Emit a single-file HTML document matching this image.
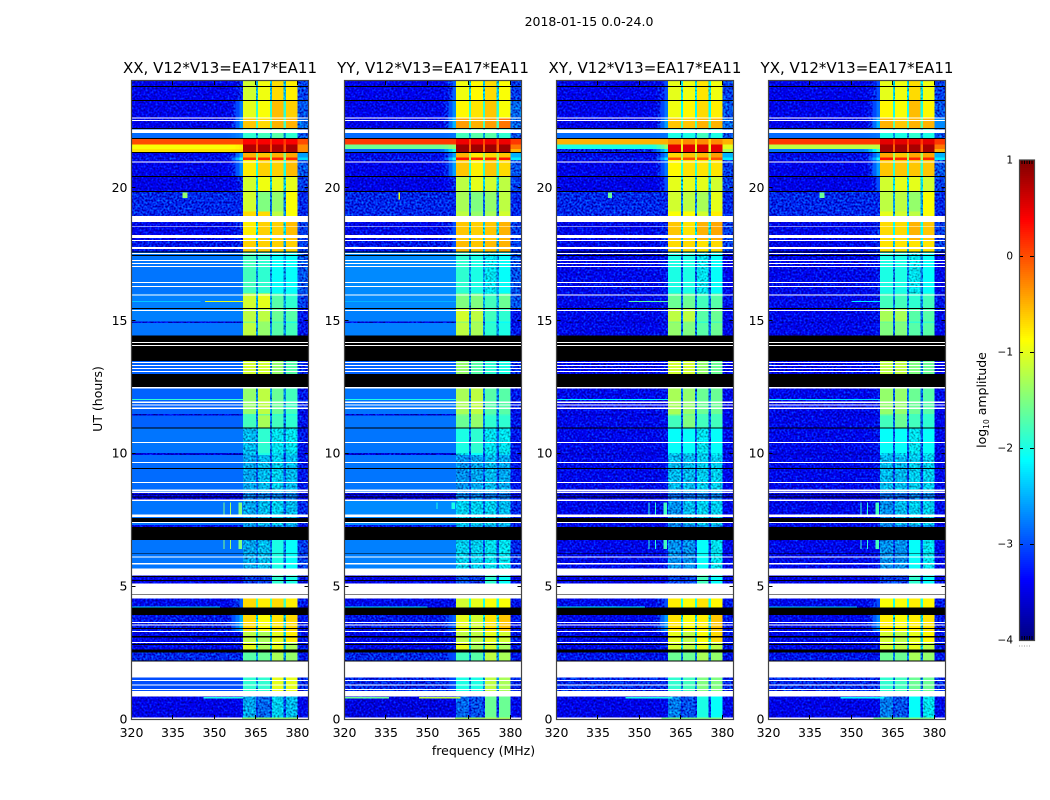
<!DOCTYPE html>
<html>
<head>
<meta charset="utf-8">
<title>2018-01-15 0.0-24.0</title>
<style>
html,body{margin:0;padding:0;background:#fff;}
svg{display:block;font-family:"DejaVu Sans","Liberation Sans",sans-serif;}
</style>
</head>
<body>
<svg id="figure" xmlns="http://www.w3.org/2000/svg" width="1050" height="800" viewBox="0 0 1050 800">
<defs>
<filter id="speckle" x="0" y="0" width="1" height="1" color-interpolation-filters="sRGB">
<feTurbulence type="fractalNoise" baseFrequency="0.5" numOctaves="1" seed="7" result="n"/>
<feColorMatrix in="n" type="matrix" values="0 0 0 0 0  1 0 0 0 0  1 0 0 0 0  0 0 0 0 1" result="g"/>
<feComposite in="SourceGraphic" in2="g" operator="arithmetic" k1="0" k2="1" k3="1.2" k4="-0.68"/>
</filter>
</defs>
<text x="589" y="26" text-anchor="middle" font-size="12.5" fill="#000">2018-01-15 0.0-24.0</text>
<text x="483.5" y="755" text-anchor="middle" font-size="12.5" fill="#000">frequency (MHz)</text>
<text transform="translate(102,399) rotate(-90)" text-anchor="middle" font-size="12.5" fill="#000">UT (hours)</text>
<text transform="translate(986,400) rotate(-90)" text-anchor="middle" font-size="12.5" fill="#000">log<tspan font-size="7.5" dy="3">10</tspan><tspan dy="-3"> amplitude</tspan></text>
</svg>
<script>
// ---- chart data ----
const panelTitles = ['XX, V12*V13=EA17*EA11','YY, V12*V13=EA17*EA11','XY, V12*V13=EA17*EA11','YX, V12*V13=EA17*EA11'];
const xTicks = [320,335,350,365,380];
const yTicks = [0,5,10,15,20];
const colorTicks = [1,0,-1,-2,-3,-4];
const colorTickLabels = ['1','0','\u22121','\u22122','\u22123','\u22124'];
// UT hour boundaries of the data rows, top to bottom
const rowEdges = [24,23.29,22.62,22.2,21.83,21.62,21.45,21.31,21.12,21.02,20.43,19.84,19.1,18.7,18,17.59,16,15.44,14.96,14.9,14.43,12.46,11.48,11.42,10.95,10,9.93,8.5,8.2,7.3,6.73,5.39,5.09,4.19,3.3,2.88,2.56,1.56,0.84,0];
// log10 amplitude per row: [bgLeft, transition, band1, band2, band3, band4, bgRight, gap]
const valuesXX = [
[-3.35,-3.1,-1.1,-0.95,-0.7,-0.8,-3,-2.4],[-3.35,-2.8,-1,-0.9,-0.55,-0.65,-2.9,-1.9],[-3.35,-2.6,-0.6,-0.7,-0.5,-0.5,-2.8,-1.8],
[-2.85,-2.7,-1.9,-1.8,-1.7,-1.9,-2.9,-2.5],[0,0,0.35,0.4,0.4,0.4,0,0.1],[-0.9,-0.8,0.75,0.75,0.75,0.8,-0.3,0],[-0.75,-0.7,0.75,0.75,0.75,0.8,-0.3,0],
[-3.3,-2.6,-0.5,-0.6,-0.5,-0.45,-2.6,-1.5],[-3.2,-2,0.2,0.2,0.2,0.2,-2.3,-1.3],[-3.35,-2.7,-0.8,-0.65,-0.65,-0.55,-2.9,-2],
[-3.4,-3.1,-1.1,-0.95,-1,-1,-3,-2.3],[-3.1,-3.1,-1.1,-1.5,-1.4,-0.9,-3.1,-2.7],[-3.1,-3.1,-0.7,-0.7,-1.2,-0.9,-3.1,-2.7],
[-3.3,-3.1,-0.8,-0.65,-0.65,-0.55,-3,-2.2],[-3.2,-3.1,-0.65,-0.65,-0.65,-0.65,-3,-2.5],[-2.8,-2.8,-1.8,-1.9,-2.1,-2.1,-2.9,-2.6],
[-2.75,-2.75,-1.1,-1,-1.7,-1.9,-3,-2.5],[-2.75,-2.75,-1.2,-1.2,-1.6,-1.7,-3.2,-2.6],[-3.5,-3.5,-1.5,-1.4,-1.8,-2,-3.5,-3],
[-2.8,-2.8,-1.2,-1.4,-1.7,-1.8,-3.2,-2.6],[-2.9,-2.9,-1.1,-1.1,-1.4,-1.7,-3.1,-2.7],[-2.9,-2.9,-1.4,-1.2,-1.6,-1.8,-3.2,-2.6],
[-3.5,-3.5,-1.8,-1.6,-1.9,-2,-3.5,-3],[-2.9,-2.9,-1.8,-1.3,-1.8,-1.9,-3.2,-2.7],[-2.8,-2.8,-2.4,-1.9,-2.2,-2.2,-3.2,-2.7],
[-3.5,-3.5,-2.4,-2,-2.3,-2.3,-3.5,-3],[-2.85,-2.85,-2.5,-2.4,-2.3,-2.4,-3.2,-2.9],[-3.4,-3.4,-2.7,-2.7,-2.7,-2.7,-3.3,-3.1],
[-2.8,-2.8,-2.5,-2.4,-2.3,-2.4,-3.1,-2.9],[-3.3,-3.2,-2.6,-2.6,-2.6,-2.6,-3.3,-3],[-2.8,-2.8,-2.5,-2.4,-2,-2.1,-3,-2.8],
[-3.4,-3.3,-3,-3,-1.9,-2,-3.2,-3.1],[-3.3,-2.9,-0.7,-0.8,-0.7,-0.8,-3.2,-1.8],[-3.2,-2.5,-0.7,-0.9,-0.75,-0.7,-3.2,-2.3],
[-3.3,-3.2,-1.2,-1.3,-1,-0.8,-3.2,-2.3],[-3.3,-3.2,-1,-1.3,-1,-1.3,-3.2,-2.3],[-3.1,-3.1,-1.7,-1.6,-1.3,-1.4,-3.2,-2.6],
[-3,-3,-1.9,-1.9,-1,-1,-3.1,-2.6],[-3.4,-3.3,-2.5,-2.8,-2.3,-2.4,-3.3,-3]];
const valuesYY = [
[-3.35,-2.9,-0.95,-0.85,-0.7,-0.9,-3,-2.3],[-3.35,-2.7,-0.85,-0.75,-0.6,-0.9,-2.8,-1.9],[-3.35,-2.5,-0.4,-0.5,-0.4,-0.2,-2.8,-1.8],
[-2.85,-2.8,-1.8,-1.7,-1.7,-1.9,-2.9,-2.5],[0.1,0.1,0.45,0.45,0.45,0.45,0.1,0],[-1.6,-1.4,0.85,0.85,0.85,0.85,-0.2,-0.1],[-2.9,-2,0.85,0.85,0.85,0.85,-0.5,-0.1],
[-3.3,-2.6,-0.5,-0.8,-0.7,-0.6,-2.5,-1.3],[-3.2,-2,0.3,0.2,0.2,0.3,-2.2,-1.2],[-3.35,-2.6,-0.6,-0.8,-0.6,-0.7,-2.9,-1.9],
[-3.4,-3.1,-1.2,-1,-1.1,-1.2,-3,-2.3],[-3.1,-3.1,-1.3,-1.5,-1.4,-1.2,-3.1,-2.8],[-3.1,-3.1,-1.2,-1.4,-1.3,-1.1,-3.1,-2.8],
[-3.3,-3,-0.6,-0.65,-0.6,-0.5,-3,-2.3],[-3.2,-3,-0.55,-0.6,-0.55,-0.5,-3,-2.5],[-2.7,-2.7,-1.9,-2,-2.2,-2.1,-2.9,-2.6],
[-2.7,-2.7,-1.5,-1.5,-1.8,-1.6,-2.9,-2.5],[-2.75,-2.75,-1.1,-1.2,-1.8,-1.9,-3.2,-2.6],[-3.5,-3.5,-1.4,-1.4,-2,-2.1,-3.5,-3],
[-2.75,-2.75,-1.2,-1.3,-1.9,-2,-3.2,-2.6],[-2.9,-2.9,-1.4,-1.7,-1.9,-2,-3.1,-2.8],[-2.8,-2.8,-1.3,-1.2,-1.7,-1.7,-3.2,-2.7],
[-3.5,-3.5,-1.5,-1.4,-1.8,-1.8,-3.5,-3],[-2.8,-2.8,-1.6,-1.4,-1.9,-1.9,-3.2,-2.7],[-2.8,-2.8,-2,-1.9,-2.2,-2.2,-3.2,-2.8],
[-3.5,-3.5,-2.2,-2.1,-2.3,-2.3,-3.5,-3],[-2.8,-2.8,-2.6,-2.5,-2.4,-2.5,-3.2,-2.9],[-3.4,-3.4,-2.7,-2.7,-2.7,-2.7,-3.3,-3.1],
[-2.7,-2.7,-2.3,-2.3,-2.3,-2.4,-3.1,-2.8],[-3.2,-3.2,-2.5,-2.5,-2.5,-2.5,-3.2,-3],[-2.75,-2.75,-2.3,-2.3,-2.2,-2.2,-3.1,-2.9],
[-3.4,-3.3,-2.9,-3,-1.9,-2.1,-3.3,-3.2],[-3.3,-3.2,-1.1,-1,-0.9,-0.9,-3.2,-2],[-3.2,-2.9,-1,-1.1,-0.75,-0.6,-3.2,-2.2],
[-3.3,-3.2,-1.2,-1.2,-1,-1.1,-3.2,-2.3],[-3.3,-3.2,-1,-1.3,-1.1,-1.3,-3.2,-2.3],[-3.1,-3,-1.8,-1.7,-1.2,-1.3,-3.2,-2.6],
[-3.1,-3,-2,-2,-1.2,-1.3,-3.1,-2.6],[-3.45,-3.4,-2.8,-2.9,-1.6,-1.6,-3.3,-3.1]];
const valuesXY = [
[-3.35,-3,-1,-0.95,-0.75,-0.95,-3,-2.2],[-3.35,-2.8,-0.95,-0.85,-0.7,-0.8,-2.9,-2.1],[-3.35,-2.6,-0.6,-0.6,-0.5,-0.5,-2.8,-1.8],
[-2.85,-2.8,-2,-2,-1.8,-2,-2.9,-2.6],[-0.5,-0.5,-0.3,-0.3,-0.3,-0.3,-0.5,-0.7],[-2,-1.4,0.5,0.5,0.55,0.5,-1,-1],[-3.1,-2.2,0.5,0.5,0.55,0.5,-1.3,-1],
[-3.3,-2.7,-0.7,-0.6,-0.55,-0.4,-2.5,-1.3],[-3.2,-2.2,0,0,0,0,-2.2,-1],[-3.35,-2.8,-0.85,-0.75,-0.75,-0.75,-3,-1.9],
[-3.4,-3,-1,-1,-1,-1.1,-3,-2.3],[-3.1,-3.1,-1.1,-1.2,-1.3,-1,-3.1,-2.7],[-3.1,-3.1,-0.9,-0.9,-1.1,-0.8,-3.1,-2.7],
[-3.3,-3.1,-0.6,-0.75,-0.5,-0.45,-3,-2.2],[-3.3,-3.1,-0.7,-0.7,-0.75,-0.7,-3,-2.6],[-3.3,-3.2,-2,-2,-2.2,-2.1,-3.3,-2.9],
[-3.3,-3.2,-1.6,-1.6,-1.8,-1.7,-3.2,-2.8],[-3.3,-3.2,-1.2,-1.2,-1.7,-1.6,-3.3,-2.8],[-3.5,-3.5,-1.5,-1.5,-1.9,-1.8,-3.5,-3],
[-3.3,-3.2,-1.4,-1.5,-1.7,-1.6,-3.3,-2.8],[-3.3,-3.2,-1.1,-1.1,-1.4,-1.6,-3.3,-2.8],[-3.3,-3.2,-1.3,-1.4,-1.6,-1.6,-3.3,-2.8],
[-3.5,-3.5,-1.5,-1.6,-1.8,-1.8,-3.5,-3],[-3.3,-3.2,-1.8,-1.5,-1.8,-1.8,-3.3,-2.8],[-3.3,-3.2,-2.1,-2.1,-2.2,-2.1,-3.3,-2.9],
[-3.5,-3.5,-2.3,-2.3,-2.3,-2.2,-3.5,-3],[-3.3,-3.2,-2.4,-2.4,-2.3,-2.3,-3.3,-3],[-3.4,-3.4,-2.8,-2.8,-2.7,-2.7,-3.3,-3.1],
[-3.3,-3.2,-2.6,-2.4,-2.3,-2.3,-3.3,-3],[-3.3,-3.2,-2.7,-2.7,-2.6,-2.6,-3.3,-3],[-3.3,-3.2,-2.6,-2.6,-2.1,-2.2,-3.3,-3],
[-3.4,-3.3,-3,-3,-1.8,-2.1,-3.3,-3.1],[-3.3,-3,-0.8,-0.9,-0.75,-0.85,-3.2,-2],[-3.3,-2.6,-0.75,-0.9,-0.8,-0.6,-3.2,-2.3],
[-3.3,-3.2,-1,-1.2,-0.9,-0.7,-3.2,-2.3],[-3.3,-3.2,-1.1,-1.2,-1,-1.2,-3.2,-2.3],[-3.2,-3.2,-1.6,-1.6,-1.3,-1.4,-3.2,-2.7],
[-3.1,-3.1,-1.9,-1.8,-1.5,-1.5,-3.1,-2.7],[-3.4,-3.3,-2.7,-2.9,-2,-2.1,-3.3,-3.1]];
const valuesYX = [
[-3.35,-3,-1,-0.95,-0.7,-0.95,-3,-2.2],[-3.35,-2.8,-0.85,-0.9,-0.55,-0.85,-2.9,-2],[-3.35,-2.5,-0.5,-0.6,-0.5,-0.5,-2.7,-1.7],
[-2.85,-2.8,-2,-2,-1.9,-2,-2.9,-2.6],[0.1,0.1,0.5,0.5,0.5,0.5,0.1,0.1],[-1.2,-1.2,0.8,0.8,0.8,0.8,-0.2,-0.1],[-2.8,-1.8,0.8,0.8,0.8,0.8,-0.5,-0.1],
[-3.3,-2.6,-0.45,-0.6,-0.45,-0.45,-2.5,-1.3],[-3.2,-2.1,0.3,0.2,0.2,0.2,-2.2,-1.2],[-3.35,-2.6,-0.6,-0.6,-0.6,-0.6,-2.9,-1.9],
[-3.4,-3,-1.1,-1,-1,-1.1,-3,-2.2],[-3.1,-3.1,-1.2,-1.2,-1.4,-0.9,-3.1,-2.5],[-3.1,-3.1,-1,-1.1,-1.2,-0.9,-3.1,-2.5],
[-3.3,-3.1,-0.7,-0.7,-0.5,-0.6,-3,-2.1],[-3.3,-3.1,-0.75,-0.75,-0.75,-0.75,-3,-2.4],[-3.3,-3.2,-2,-2,-2.2,-2.1,-3.3,-2.7],
[-3.3,-3.2,-1.8,-1.8,-1.9,-1.8,-3.2,-2.7],[-3.3,-3.2,-1.3,-1.3,-1.7,-1.7,-3.3,-2.8],[-3.5,-3.5,-1.6,-1.6,-1.9,-1.9,-3.5,-3],
[-3.3,-3.2,-1.5,-1.5,-1.7,-1.7,-3.3,-2.8],[-3.3,-3.2,-1.2,-1.2,-1.5,-1.6,-3.3,-2.8],[-3.3,-3.2,-1.4,-1.4,-1.6,-1.7,-3.3,-2.8],
[-3.5,-3.5,-1.6,-1.6,-1.8,-1.9,-3.5,-3],[-3.3,-3.2,-1.8,-1.6,-1.8,-1.9,-3.3,-2.8],[-3.3,-3.2,-2.1,-2.1,-2.2,-2.1,-3.3,-2.9],
[-3.5,-3.5,-2.3,-2.3,-2.3,-2.2,-3.5,-3],[-3.3,-3.2,-2.4,-2.4,-2.3,-2.3,-3.3,-3],[-3.4,-3.4,-2.8,-2.8,-2.7,-2.7,-3.3,-3.1],
[-3.3,-3.2,-2.6,-2.4,-2.3,-2.3,-3.3,-3],[-3.3,-3.2,-2.7,-2.7,-2.6,-2.6,-3.3,-3],[-3.3,-3.2,-2.6,-2.6,-2.1,-2.2,-3.3,-3],
[-3.4,-3.3,-3,-3,-1.9,-2.1,-3.3,-3.1],[-3.3,-3,-0.9,-0.9,-0.8,-0.85,-3.2,-2],[-3.3,-2.7,-0.8,-0.9,-0.8,-0.75,-3.2,-2.3],
[-3.3,-3.2,-1.1,-1.2,-1,-0.85,-3.2,-2.3],[-3.3,-3.2,-1.1,-1.2,-1,-1.2,-3.2,-2.3],[-3.2,-3.2,-1.6,-1.6,-1.3,-1.4,-3.2,-2.7],
[-3.1,-3.1,-1.9,-1.8,-1.6,-1.6,-3.1,-2.7],[-3.4,-3.3,-2.7,-2.9,-2.1,-2.2,-3.3,-3.1]];
const panelValues = [valuesXX,valuesYY,valuesXY,valuesYX];
// isolated interference features: [panel, upper UT, lower UT, start MHz, end MHz, log10 amplitude]
const spikes = [
[0,19.8,19.6,338.5,340.3,-1.4],[1,19.8,19.55,339.6,340,-1],[2,19.8,19.6,338.7,340,-1.6],[3,19.8,19.6,338.5,340.3,-1.6],
[0,15.72,15.68,346.5,360.4,-1],[0,15.72,15.68,320,345,-2.4],[1,15.72,15.68,320,360.4,-2.5],[2,15.72,15.68,346,360.4,-1.7],[3,15.72,15.68,350,360.4,-2.2],
[0,12.04,12,320,360.4,-1.9],[1,12.04,12,320,360.4,-2],[2,12.04,12,320,360.4,-2.2],[3,12.04,12,320,360.4,-2.3],
[0,8.15,7.7,353.2,353.6,-1.5],[0,8.15,7.7,355.6,356,-1.3],[0,8.15,7.7,358.7,360,-1.5],
[0,6.73,6.4,353.2,353.6,-1.5],[0,6.73,6.4,355.6,356,-1.3],[0,6.73,6.4,358.7,360,-1.5],
[1,8.15,7.9,353.2,353.6,-2],[1,8.15,7.9,358.7,360,-2],
[2,8.15,7.7,353.2,353.6,-1.9],[2,8.15,7.7,355.6,356,-1.9],[2,8.15,7.7,358.7,360,-1.8],
[2,6.73,6.4,353.2,353.6,-1.9],[2,6.73,6.4,355.6,356,-1.9],[2,6.73,6.4,358.7,360,-1.8],
[3,8.15,7.7,353.2,353.6,-1.9],[3,8.15,7.7,355.6,356,-1.9],[3,8.15,7.7,358.7,360,-1.8],
[3,6.73,6.4,353.2,353.6,-1.9],[3,6.73,6.4,355.6,356,-1.9],[3,6.73,6.4,358.7,360,-1.8],
[0,4.24,4.2,320,352,-2.4],[1,4.24,4.2,320,350,-2.3],[2,4.24,4.2,320,352,-2.2],[3,4.24,4.2,320,352,-2.4],
[0,0.82,0.78,346,360.4,-2],[1,0.82,0.78,320,336,-1.6],[1,0.82,0.78,347,362,-1.2],[2,0.82,0.78,345,362,-2],[3,0.82,0.78,346,362,-2.1],
[0,0.05,0,360,380,-1.4],[1,0.05,0,360,380,-1.3],[2,0.05,0,358,380,-1.5],[3,0.05,0,358,380,-1.5]
];
// flagged (white) time ranges, [upper UT, lower UT]
const whiteGaps = [[22.62,22.58],[22.54,22.5],[22.18,22.04],[20.97,20.94],[18.92,18.7],[18.55,18.52],[18.21,18.1],[18.02,17.98],[17.76,17.68],[17.53,17.49],[17.27,17.23],[17.16,17.12],[17.04,17],[16.44,16.4],[16.29,16.25],[15.97,15.93],[15.39,15.35],[14.18,14.15],[14.07,14.03],[13.43,13.39],[13.32,13.28],[13.21,13.17],[13.09,13.05],[12.48,12.44],[11.95,11.89],[11.83,11.79],[11.71,11.67],[10.42,10.38],[9.67,9.63],[8.92,8.88],[8.63,8.58],[8.55,8.5],[8.25,8.21],[7.7,7.59],[7.41,7.37],[6.11,6.07],[5.86,5.82],[5.67,5.39],[5.09,4.7],[4.68,4.53],[3.65,3.61],[3.55,3.51],[3.31,3.27],[2.9,2.86],[2.16,1.56],[1.47,1.43],[1.3,1.26],[1.13,1.09],[1.05,0.84],[0.05,0]];
// zero-amplitude (black) time ranges, [upper UT, lower UT]
const blackGaps = [[23.82,23.78],[23.29,23.25],[22.24,22.2],[21.85,21.81],[21.33,21.29],[20.43,20.39],[19.86,19.82],[17.59,17.55],[17.46,17.42],[15.46,15.42],[14.43,13.47],[12.98,12.48],[10.97,10.93],[9.44,9.41],[8.45,8.42],[8.37,8.34],[7.56,7.41],[7.22,6.73],[6.23,6.2],[5.38,5.34],[5.23,5.19],[4.7,4.68],[4.19,3.91],[3.42,3.39],[3.12,3.07],[2.82,2.79],[2.62,2.51],[2.21,2.16]];

// ---- layout ----
const NS = 'http://www.w3.org/2000/svg';
const fig = document.getElementById('figure');
const panelLeft = [131.5,344.5,556.5,768.5];
const axW = 177, axTop = 81, axBottom = 719;
const xMin = 320, xMax = 384, yMin = 0, yMax = 24;
// frequency zones (MHz): [start, end, value column, share of the step from bgLeft]
const zones = [
[320,354.7,0,0],[354.7,356.2,1,0.08],[356.2,357.6,1,0.3],[357.6,359,1,0.6],[359,360.4,1,1],
[360.4,365,2,1],[365,365.8,7,1],[365.8,370,3,1],[370,370.8,7,1],[370.8,375,4,1],[375,375.8,7,1],[375.8,380,5,1],[380,384,6,1]];
function xScale(p, f) { return panelLeft[p] + (f - xMin) / (xMax - xMin) * axW; }
function yScale(h) { return axBottom - (h - yMin) / (yMax - yMin) * (axBottom - axTop); }
function colorY(v) { return 640 - (v + 4) / 5 * 480; }
function jet(v) {
  const t = Math.max(0, Math.min(1, (v + 4) / 5));
  const c = function (o) { return Math.round(255 * Math.max(0, Math.min(1, 1.5 - Math.abs(4 * t - o)))); };
  return 'rgb(' + c(3) + ',' + c(2) + ',' + c(1) + ')';
}
function mk(tag, parent) {
  const el = document.createElementNS(NS, tag);
  parent.appendChild(el);
  return el;
}
function box(el, x0, y0, x1, y1, fill) {
  el.setAttribute('x', x0);
  el.setAttribute('y', y0);
  el.setAttribute('width', Math.max(x1 - x0, 0.4));
  el.setAttribute('height', Math.max(y1 - y0, 0.4));
  el.setAttribute('fill', fill);
  el.setAttribute('shape-rendering', 'crispEdges');
}
function seg(parent, x1, y1, x2, y2, color) {
  const l = mk('line', parent);
  l.setAttribute('x1', x1);
  l.setAttribute('y1', y1);
  l.setAttribute('x2', x2);
  l.setAttribute('y2', y2);
  l.setAttribute('stroke', color);
  l.setAttribute('stroke-width', 1);
  l.setAttribute('shape-rendering', 'crispEdges');
  return l;
}
function label(parent, x, y, s, anchor, size) {
  const t = mk('text', parent);
  t.setAttribute('x', x);
  t.setAttribute('y', y);
  t.setAttribute('text-anchor', anchor);
  t.setAttribute('font-size', size);
  t.setAttribute('fill', '#000');
  t.textContent = s;
  return t;
}
panelTitles.forEach(function (title, p) {
  const g = mk('g', fig);
  
  
  const noisy = mk('g', g);
  
  
  noisy.setAttribute('filter', 'url(#speckle)');
  const smooth = mk('g', g);
  
  
  const rows = panelValues[p];
  rows.forEach(function (row, r) {
    zones.forEach(function (z) {
      const col = z[2];
      const v = col === 1 ? row[0] + z[3] * (row[1] - row[0]) : row[col];
      const isBand = col >= 2 && col <= 5 || col === 7;
      const speck = isBand ? v < -2.1 : (col === 6 ? v < -2.75 : v < -3.05);
      const cell = mk('rect', speck ? noisy : smooth);
      
      
      box(cell, xScale(p, z[0]), yScale(rowEdges[r]), xScale(p, z[1]), yScale(rowEdges[r + 1]), jet(v));
    });
  });
  blackGaps.forEach(function (b) {
    const k = mk('rect', g);
    
    
    box(k, xScale(p, xMin), yScale(b[0]), xScale(p, xMax), yScale(b[1]), '#000');
  });
  whiteGaps.forEach(function (w) {
    const k = mk('rect', g);
    
    
    box(k, xScale(p, xMin), yScale(w[0]), xScale(p, xMax), yScale(w[1]), '#fff');
  });
  spikes.forEach(function (s) {
    if (s[0] !== p) return;
    const sp = mk('rect', g);
    
    
    box(sp, xScale(p, s[3]), yScale(s[1]), xScale(p, s[4]), yScale(s[2]), jet(s[5]));
  });
  xTicks.forEach(function (t) {
    const x = Math.round(xScale(p, t) - 0.5) + 0.5;
    const a = seg(g, x, axBottom, x, axBottom - 4, '#000');
    
    
    const b = seg(g, x, axTop, x, axTop + 4, '#000');
    
    
    const tx = label(g, xScale(p, t), 737, String(t), 'middle', 12.5);
    
    
  });
  yTicks.forEach(function (t) {
    const y = Math.round(yScale(t)) + 0.5;
    const a = seg(g, panelLeft[p], y, panelLeft[p] + 4, y, '#000');
    
    
    const b = seg(g, panelLeft[p] + axW, y, panelLeft[p] + axW - 4, y, '#000');
    
    
    const tx = label(g, panelLeft[p] - 4, yScale(t) + 4.5, String(t), 'end', 12.5);
    
    
  });
  const frame = mk('rect', g);
  
  
  frame.setAttribute('x', panelLeft[p]);
  frame.setAttribute('y', axTop - 0.5);
  frame.setAttribute('width', axW);
  frame.setAttribute('height', axBottom - axTop + 1);
  frame.setAttribute('fill', 'none');
  frame.setAttribute('stroke', '#444');
  frame.setAttribute('stroke-width', 1.2);
  const tt = label(g, panelLeft[p] + axW / 2, 73, title, 'middle', 15);
  
  
});
// colour bar
const cb = mk('g', fig);


for (let y = 160; y < 640; y += 2) {
  const r = mk('rect', cb);
  
  
  box(r, 1020, y, 1034, y + 2, jet(-4 + (640 - y - 1) / 96));
}
colorTicks.forEach(function (t, i) {
  const y = Math.round(colorY(t)) + 0.5;
  if (i > 0 && i < colorTicks.length - 1) {
    const a = seg(cb, 1019, y, 1023, y, '#000');
    
    
    const b = seg(cb, 1030, y, 1034, y, '#000');
    
    
  }
  const tx = label(cb, 1013, colorY(t) + 3.5, colorTickLabels[i], 'end', 10.5);
  
  
});
for (let x = 1022; x < 1033; x += 2.5) {
  const m1 = seg(cb, x, 160, x, 164, '#000');
  
  
  const m2 = seg(cb, x, 640, x, 636, '#000');
  
  
  const d = seg(cb, x - 3, 646, x - 2, 646, '#999');
  
  
}
const cbFrame = mk('rect', cb);


cbFrame.setAttribute('x', 1019.5);
cbFrame.setAttribute('y', 160);
cbFrame.setAttribute('width', 15);
cbFrame.setAttribute('height', 480.5);
cbFrame.setAttribute('fill', 'none');
cbFrame.setAttribute('stroke', '#444');
cbFrame.setAttribute('stroke-width', 1.2);
</script>
</body>
</html>
